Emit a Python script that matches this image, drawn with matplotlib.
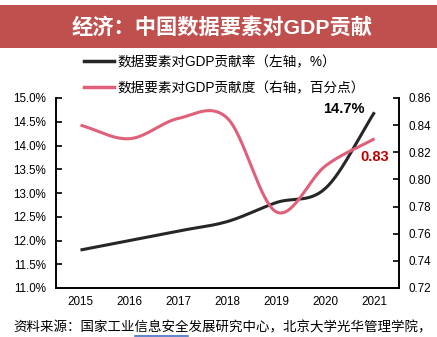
import matplotlib
matplotlib.use("Agg")
import matplotlib.pyplot as plt
import numpy as np
from matplotlib.patches import Rectangle
from matplotlib.lines import Line2D

plt.rcParams['font.family'] = ['Liberation Sans', 'Noto Sans CJK SC']

years = ["2015", "2016", "2017", "2018", "2019", "2020", "2021"]
share_pct = [11.8, 12.0, 12.2, 12.4, 12.8, 13.1, 14.7]          # left axis, %
contrib_pp = [0.840, 0.830, 0.845, 0.845, 0.776, 0.810, 0.830]  # right axis
left_ticks = [11.0, 11.5, 12.0, 12.5, 13.0, 13.5, 14.0, 14.5, 15.0]
right_ticks = [0.72, 0.74, 0.76, 0.78, 0.80, 0.82, 0.84, 0.86]

TITLE = "经济：中国数据要素对GDP贡献"
LABEL_L = "数据要素对GDP贡献率（左轴，%）"
LABEL_R = "数据要素对GDP贡献度（右轴，百分点）"
SOURCE = "资料来源：国家工业信息安全发展研究中心，北京大学光华管理学院，"

BLACK = "#262626"
PINK = "#E0607A"
BANNER = "#C0504D"


def smooth(y, n=30):
    """Catmull-Rom curve through the points (Excel-like smoothed line)."""
    y = np.asarray(y, dtype=float)
    x = np.arange(len(y), dtype=float)
    px = np.concatenate([[2 * x[0] - x[1]], x, [2 * x[-1] - x[-2]]])
    py = np.concatenate([[2 * y[0] - y[1]], y, [2 * y[-1] - y[-2]]])
    xs, ys = [], []
    t = np.linspace(0, 1, n, endpoint=False)
    for i in range(1, len(px) - 2):
        for arr, out in ((px, xs), (py, ys)):
            p0, p1, p2, p3 = arr[i - 1], arr[i], arr[i + 1], arr[i + 2]
            out.extend(0.5 * (2 * p1 + (-p0 + p2) * t
                              + (2 * p0 - 5 * p1 + 4 * p2 - p3) * t ** 2
                              + (-p0 + 3 * p1 - 3 * p2 + p3) * t ** 3))
    xs.append(x[-1])
    ys.append(y[-1])
    return np.array(xs), np.array(ys)


fig = plt.figure(figsize=(4.37, 3.37), dpi=100, facecolor="white")

# title banner
fig.patches.append(Rectangle((0, 1 - 48 / 337), 1, 43 / 337,
                             transform=fig.transFigure, facecolor=BANNER,
                             edgecolor="none", zorder=0))
fig.text(222 / 437, 1 - 27 / 337, TITLE, color="white", fontsize=15.3,
         fontweight="bold", ha="center", va="center")

ax = fig.add_axes([56 / 437, 1 - 288 / 337, 343 / 437, 190 / 337])
ax2 = ax.twinx()

xs, ys = smooth(share_pct)
ax.plot(xs, ys, color=BLACK, lw=2.2, solid_capstyle="butt", zorder=3)
xs, ys = smooth(contrib_pp)
ax2.plot(xs, ys, color=PINK, lw=2.2, solid_capstyle="butt", zorder=3)

ax.set_xlim(-0.5, len(years) - 0.5)
ax.set_xticks(range(len(years)))
ax.set_xticklabels(years)
ax.set_ylim(11.0, 15.0)
ax.set_yticks(left_ticks)
ax.set_yticklabels([f"{v:.1f}%" for v in left_ticks])
ax2.set_ylim(0.72, 0.86)
ax2.set_yticks(right_ticks)
ax2.set_yticklabels([f"{v:.2f}" for v in right_ticks])

for a in (ax, ax2):
    a.spines["top"].set_visible(False)
    for s in a.spines.values():
        s.set_linewidth(1.2)
        s.set_color("#000000")
    a.tick_params(axis="y", direction="in", length=4, width=1.2,
                  labelsize=8.4, pad=7)
ax.tick_params(axis="x", length=0, labelsize=8.4, pad=6)

ax.annotate(f"{share_pct[-1]:.1f}%", (6, share_pct[-1]),
            xytext=(-7, 2), textcoords="offset points",
            ha="right", va="center", fontsize=10.5, fontweight="bold",
            color="#000000")
ax2.annotate(f"{contrib_pp[-1]:.2f}", (6, contrib_pp[-1]),
             xytext=(0, -13), textcoords="offset points",
             ha="center", va="center", fontsize=10.5, fontweight="bold",
             color="#C00000")

# legend drawn as two rows above the plot
handles = [Line2D([], [], color=BLACK, lw=2.5),
           Line2D([], [], color=PINK, lw=2.5)]
fig.legend(handles, [LABEL_L, LABEL_R], loc="upper left",
           bbox_to_anchor=(84 / 437, 1 - 55 / 337), frameon=False,
           fontsize=9.8, handlelength=2.2, handletextpad=0.25,
           labelspacing=0.9, borderaxespad=0, borderpad=0)

fig.text(13 / 437, 1 - 328 / 337, SOURCE, fontsize=9.7, ha="left",
         va="center", color="#000000")
# blue hyperlink underline under "信息安全"
fig.add_artist(Line2D([135 / 437, 188 / 437], [1 - 335.5 / 337, 1 - 335.5 / 337],
                      transform=fig.transFigure, color="#4472C4", lw=1.2))

fig.savefig("out.png", dpi=100, facecolor="white")
